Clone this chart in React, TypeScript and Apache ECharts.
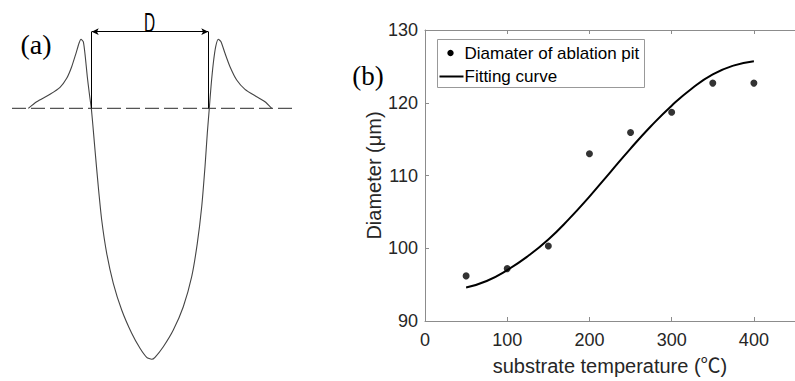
import React, { useEffect, useRef } from "react";
import * as echarts from "echarts";

// Panel (b) data
const temperatures = [50, 100, 150, 200, 250, 300, 350, 400];
const pitDiameters = [96.2, 97.2, 100.3, 113.0, 115.9, 118.7, 122.7, 122.7];
const fitTemps = [50, 75, 100, 125, 150, 175, 200, 225, 250, 275, 300, 325, 350, 375, 400];
const fitValues = [94.6, 95.5, 97.0, 98.9, 101.2, 104.0, 107.1, 110.4, 113.7, 116.8, 119.6, 122.0, 123.9, 125.1, 125.7];
const xTicks = [0, 100, 200, 300, 400];
const yTicks = [90, 100, 110, 120, 130];

// Panel (a) schematic profile (diagram units: x from crater centre, y height above surface)
const profileX = [-121.7, -113.3, -100, -90, -83.3, -78.3, -74, -71, -69, -66.7, -64.7, -62.7, -60.7, -58.7, -57, -55, -51.7, -48.3, -43.3, -36.7, -28.3, -18.3, -10, -3.3, 1.7, 5, 13.3, 23.3, 33.3, 41.7, 47.3, 51.7, 55, 57.3, 59.3, 61, 63.3, 65.7, 68.3, 71, 75, 80, 86.7, 95, 106.7, 115, 121.7];
const profileY = [0, 6.6, 14, 21, 30, 41.6, 55, 65, 69, 66.6, 51.6, 31.6, 15, 0, -18.4, -41.7, -78.4, -111.7, -145, -175, -201.7, -225, -240, -249, -251, -249, -238.4, -221.7, -198.4, -168.4, -135, -98.4, -58.4, -25, 0, 21.6, 45, 61.6, 69, 66.6, 55, 41.6, 28.3, 19, 11.6, 6.6, 0];
const surfaceX = [-138, 147];
const dimHalfWidth = 58.3;
const dimHeight = 76.6;

const FONT = "'Liberation Sans', Arial, sans-serif";
const NAME_FONT = "'Liberation Sans', Arial, 'Noto Sans CJK SC', sans-serif";
const AXIS_COLOR = "#8c8c8c";
const LABEL_COLOR = "#262626";

export default function App() {
  const ref = useRef<HTMLDivElement>(null);
  useEffect(() => {
    if (!ref.current) return;
    const chart = echarts.init(ref.current, undefined, { renderer: "svg" });
    const scatterData = temperatures.map((t, i) => [t, pitDiameters[i]]);
    const fitData = fitTemps.map((t, i) => [t, fitValues[i]]);
    const profileData = profileX.map((x, i) => [x, profileY[i]]);
    const surfaceData = surfaceX.map((x) => [x, 0]);

    chart.setOption({
      animation: false,
      backgroundColor: "#fff",
      textStyle: { fontFamily: FONT },
      grid: [
        { left: 425, top: 30, width: 378, height: 293 },
        { left: 0, top: 0, width: 320, height: 381 },
      ],
      xAxis: [
        {
          gridIndex: 0,
          type: "value",
          position: "bottom",
          min: xTicks[0],
          max: 450,
          interval: 100,
          axisLine: { lineStyle: { color: AXIS_COLOR, width: 1 } },
          axisTick: { inside: true, length: 4, lineStyle: { color: AXIS_COLOR } },
          axisLabel: { fontSize: 18, color: LABEL_COLOR, margin: 10, fontFamily: FONT, showMaxLabel: false },
          splitLine: { show: false },
          name: "substrate temperature (℃)",
          nameLocation: "middle",
          nameGap: 35,
          nameTextStyle: { fontSize: 20, color: LABEL_COLOR, fontFamily: NAME_FONT },
        },
        {
          gridIndex: 0,
          type: "value",
          position: "top",
          min: 0,
          max: 450,
          interval: 100,
          axisLine: { lineStyle: { color: AXIS_COLOR, width: 1 } },
          axisTick: { inside: true, length: 4, lineStyle: { color: AXIS_COLOR } },
          axisLabel: { show: false },
          splitLine: { show: false },
        },
        { gridIndex: 1, type: "value", min: -150, max: 170, show: false },
      ],
      yAxis: [
        {
          gridIndex: 0,
          type: "value",
          min: yTicks[0],
          max: yTicks[yTicks.length - 1],
          interval: 10,
          axisLine: { show: true, lineStyle: { color: AXIS_COLOR, width: 1 } },
          axisTick: { show: true, inside: true, length: 4, lineStyle: { color: AXIS_COLOR } },
          axisLabel: { fontSize: 18, color: LABEL_COLOR, margin: 7, fontFamily: FONT },
          splitLine: { show: false },
          name: "Diameter (μm)",
          nameLocation: "middle",
          nameGap: 40,
          nameTextStyle: { fontSize: 20, color: LABEL_COLOR, fontFamily: FONT },
        },
        { gridIndex: 1, type: "value", min: -272.7, max: 108.3, show: false },
      ],
      series: [
        {
          type: "line",
          name: "Fitting curve",
          xAxisIndex: 0,
          yAxisIndex: 0,
          data: fitData,
          smooth: 0.5,
          showSymbol: false,
          lineStyle: { color: "#000", width: 2 },
          z: 3,
        },
        {
          type: "scatter",
          name: "Diamater of ablation pit",
          xAxisIndex: 0,
          yAxisIndex: 0,
          data: scatterData,
          symbol: "circle",
          symbolSize: 7,
          itemStyle: { color: "#000" },
          z: 4,
        },
        {
          type: "line",
          name: "surface",
          xAxisIndex: 2,
          yAxisIndex: 1,
          data: surfaceData,
          showSymbol: false,
          lineStyle: { color: "#555", width: 1.2, type: [14, 5] },
          silent: true,
        },
        {
          type: "line",
          name: "profile",
          xAxisIndex: 2,
          yAxisIndex: 1,
          data: profileData,
          showSymbol: false,
          smooth: 0.2,
          lineStyle: { color: "#444", width: 1.1 },
          silent: true,
          markLine: {
            silent: true,
            animation: false,
            label: { show: false },
            lineStyle: { color: "#000", width: 1, type: "solid" },
            symbol: ["arrow", "arrow"],
            symbolSize: [5, 7],
            data: [
              [
                { coord: [-dimHalfWidth, dimHeight] },
                { coord: [dimHalfWidth, dimHeight] },
              ],
              [
                { coord: [-dimHalfWidth, 0], symbol: "none" },
                { coord: [-dimHalfWidth, dimHeight], symbol: "none" },
              ],
              [
                { coord: [dimHalfWidth, 0], symbol: "none" },
                { coord: [dimHalfWidth, dimHeight], symbol: "none" },
              ],
            ],
          },
        },
      ],
      graphic: [
        {
          type: "text",
          x: 36,
          y: 44,
          style: {
            text: "(a)",
            font: "28px 'Liberation Serif', 'Times New Roman', serif",
            fill: "#000",
            textAlign: "center",
            textVerticalAlign: "middle",
          },
        },
        {
          type: "text",
          x: 368,
          y: 76,
          style: {
            text: "(b)",
            font: "27px 'Liberation Serif', 'Times New Roman', serif",
            fill: "#000",
            textAlign: "center",
            textVerticalAlign: "middle",
          },
        },
        {
          type: "text",
          x: 149.5,
          y: 23,
          scaleX: 0.55,
          style: {
            text: "D",
            font: "28px 'Liberation Sans', Arial, sans-serif",
            fill: "#000",
            textAlign: "center",
            textVerticalAlign: "middle",
          },
        },
        {
          type: "group",
          left: 437,
          top: 39,
          children: [
            {
              type: "rect",
              shape: { x: 0, y: 0, width: 207, height: 48 },
              style: { fill: "#fff", stroke: "#999", lineWidth: 1 },
            },
            {
              type: "circle",
              shape: { cx: 13, cy: 13.5, r: 3.2 },
              style: { fill: "#000" },
            },
            {
              type: "text",
              x: 27,
              y: 14,
              style: {
                text: "Diamater of ablation pit",
                font: "17px 'Liberation Sans', Arial, sans-serif",
                fill: "#000",
                textVerticalAlign: "middle",
              },
            },
            {
              type: "line",
              shape: { x1: 2, y1: 37, x2: 26, y2: 37 },
              style: { stroke: "#000", lineWidth: 2 },
            },
            {
              type: "text",
              x: 27,
              y: 37,
              style: {
                text: "Fitting curve",
                font: "17px 'Liberation Sans', Arial, sans-serif",
                fill: "#000",
                textVerticalAlign: "middle",
              },
            },
          ],
        },
      ],
    });
    return () => chart.dispose();
  }, []);
  return (
    <div
      ref={ref}
      style={{ position: "absolute", left: 0, top: 0, width: 795, height: 381, overflow: "hidden" }}
    />
  );
}
